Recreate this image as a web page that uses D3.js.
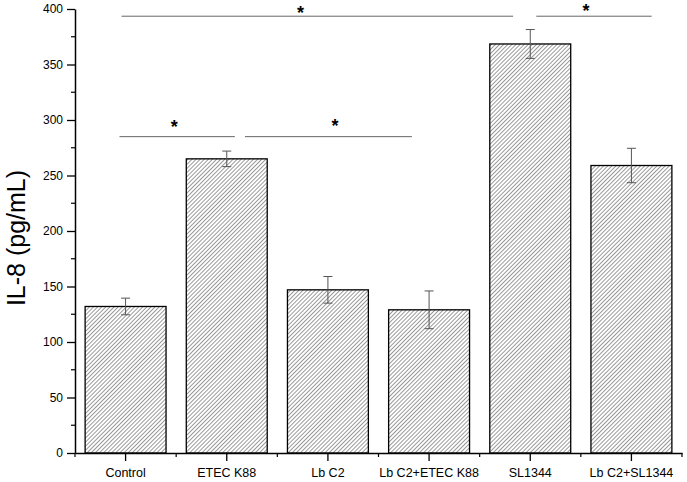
<!DOCTYPE html>
<html>
<head>
<meta charset="utf-8">
<script src="https://cdn.jsdelivr.net/npm/d3@7"></script>
<style>
  body { margin: 0; background: #fff; }
  svg { display: block; font-family: "Liberation Sans", Arial, sans-serif; }
</style>
</head>
<body>
<svg id="chart" width="687" height="482"></svg>
<script>
// Data
const groups = ['Control', 'ETEC K88', 'Lb C2', 'Lb C2+ETEC K88', 'SL1344', 'Lb C2+SL1344'];
const means = [132, 265, 147, 129, 368.5, 259];
const errors = [7.5, 7, 12, 17, 13, 15.5];
const yTicks = [0, 50, 100, 150, 200, 250, 300, 350, 400];

// Significance brackets: start/end/star in category-index units, levels in pg/mL
const sigFrom = [-0.06, 1.18, -0.04, 4.06];
const sigTo = [1.08, 2.83, 3.83, 5.2];
const sigStar = [0.48, 2.07, 1.73, 4.55];
const sigLevel = [285, 285, 393.5, 393.5];
const sigStarLevel = [297, 298, 400, 401.5];

const svg = d3.select('#chart');
const margin = {top: 9, right: 5, bottom: 29, left: 75};
const width = 687 - margin.left - margin.right;
const height = 482 - margin.top - margin.bottom;
const font = '"Liberation Sans", Arial, sans-serif';

const x = d3.scaleBand()
  .domain(groups)
  .range([0, width])
  .paddingInner(0.2)
  .paddingOuter(0.1);

const y = d3.scaleLinear()
  .domain([0, 400])
  .range([height, 0]);

// category index -> pixel at the band centre
const xi = d3.scaleLinear()
  .domain([0, groups.length - 1])
  .range([x(groups[0]) + x.bandwidth() / 2,
    x(groups[groups.length - 1]) + x.bandwidth() / 2]);

const defs = svg.append('defs');
const pattern = defs.append('pattern')
  .attr('id', 'hatch')
  .attr('patternUnits', 'userSpaceOnUse')
  .attr('width', 2.9)
  .attr('height', 2.9)
  .attr('patternTransform', 'rotate(45)');
pattern.append('line')
  .attr('x1', 0).attr('y1', 0)
  .attr('x2', 0).attr('y2', 2.9)
  .attr('stroke', '#2a2a2a')
  .attr('stroke-width', 0.95);

const g = svg.append('g')
  .attr('transform', `translate(${margin.left},${margin.top})`);

// bars
g.selectAll('.bar')
  .data(groups)
  .enter()
  .append('rect')
  .attr('class', 'bar')
  .attr('x', (d) => x(d))
  .attr('y', (d, i) => y(means[i]))
  .attr('width', x.bandwidth())
  .attr('height', (d, i) => y(0) - y(means[i]))
  .attr('fill', 'url(#hatch)')
  .attr('stroke', '#000')
  .attr('stroke-width', 1.3);

// error bars
const err = g.selectAll('.err')
  .data(groups)
  .enter()
  .append('g')
  .attr('class', 'err')
  .attr('stroke', '#555')
  .attr('stroke-width', 1);
const cx = (d) => x(d) + x.bandwidth() / 2;
err.append('line')
  .attr('x1', cx).attr('x2', cx)
  .attr('y1', (d, i) => y(means[i] + errors[i]))
  .attr('y2', (d, i) => y(means[i] - errors[i]));
err.append('line')
  .attr('x1', (d) => cx(d) - 4.5).attr('x2', (d) => cx(d) + 4.5)
  .attr('y1', (d, i) => y(means[i] + errors[i]))
  .attr('y2', (d, i) => y(means[i] + errors[i]));
err.append('line')
  .attr('x1', (d) => cx(d) - 4.5).attr('x2', (d) => cx(d) + 4.5)
  .attr('y1', (d, i) => y(means[i] - errors[i]))
  .attr('y2', (d, i) => y(means[i] - errors[i]));

// significance lines
const sig = g.selectAll('.sig')
  .data(sigLevel)
  .enter()
  .append('g')
  .attr('class', 'sig');
sig.append('line')
  .attr('x1', (d, i) => xi(sigFrom[i]))
  .attr('x2', (d, i) => xi(sigTo[i]))
  .attr('y1', (d) => y(d))
  .attr('y2', (d) => y(d))
  .attr('stroke', '#666')
  .attr('stroke-width', 1);
sig.append('text')
  .attr('x', (d, i) => xi(sigStar[i]))
  .attr('y', (d, i) => y(sigStarLevel[i]) + 10)
  .attr('text-anchor', 'middle')
  .attr('font-size', 18)
  .attr('font-weight', 'bold')
  .text('*');

// y axis
const yAxis = g.append('g')
  .call(d3.axisLeft(y).tickValues(yTicks).tickSize(8).tickPadding(4).tickSizeOuter(0));
yAxis.selectAll('text').attr('font-size', 12).attr('fill', '#000')
  .attr('font-family', font);
yAxis.select('.domain').attr('stroke-width', 1.5);
yAxis.selectAll('.tick line').attr('stroke-width', 1.3);
g.append('g')
  .selectAll('line')
  .data(yTicks.slice(0, -1).map((t) => t + 25))
  .enter()
  .append('line')
  .attr('x1', -4).attr('x2', 0)
  .attr('y1', (d) => y(d)).attr('y2', (d) => y(d))
  .attr('stroke', '#000')
  .attr('stroke-width', 1.2);

// x axis
const xAxis = g.append('g')
  .attr('transform', `translate(0,${height})`)
  .call(d3.axisBottom(x).tickSize(8).tickPadding(7).tickSizeOuter(0));
xAxis.selectAll('text').attr('font-size', 12.5).attr('fill', '#000')
  .attr('font-family', font);
xAxis.select('.domain').attr('stroke-width', 1.5);
xAxis.selectAll('.tick line').attr('stroke-width', 1.3);
g.append('g')
  .selectAll('line')
  .data(d3.range(groups.length + 1))
  .enter()
  .append('line')
  .attr('x1', (d) => xi(d - 0.5)).attr('x2', (d) => xi(d - 0.5))
  .attr('y1', height).attr('y2', height + 4)
  .attr('stroke', '#000')
  .attr('stroke-width', 1.2);

// y label
svg.append('text')
  .attr('transform', 'translate(25,238) rotate(-90)')
  .attr('text-anchor', 'middle')
  .attr('font-size', 25)
  .text('IL-8 (pg/mL)');
</script>
</body>
</html>
